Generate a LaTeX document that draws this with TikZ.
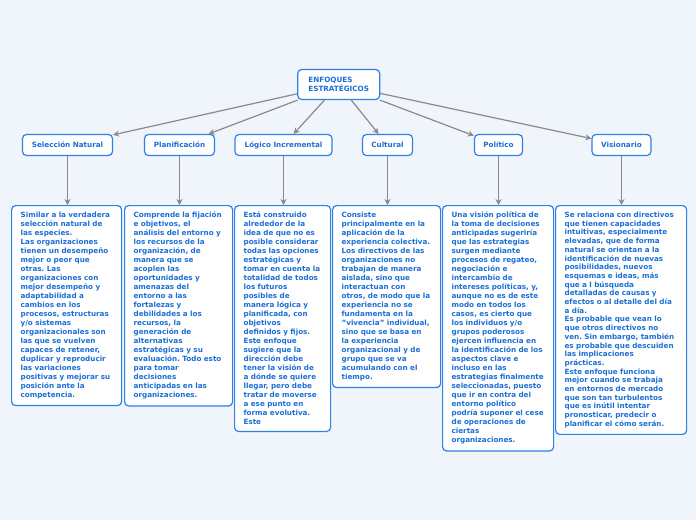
\documentclass[tikz,border=0pt]{standalone}
\usepackage{fontspec}
\setmainfont{DejaVu Sans}
\usepackage{tikz}
\usetikzlibrary{arrows.meta,positioning}
\frenchspacing
\definecolor{cBg}{HTML}{F0F4FB}
\definecolor{cBlue}{HTML}{2F80E8}
\definecolor{cText}{HTML}{1A6FD6}
\definecolor{cGray}{HTML}{8A8A8A}
\tikzset{
  bx/.style={draw=cBlue,fill=white,rounded corners=4pt,line width=1.2pt,text=cText,font=\fontsize{7.2}{9}\selectfont\bfseries},
  rootbox/.style={bx,align=left,minimum width=82pt,minimum height=30pt,inner xsep=8pt},
  topic/.style={bx,minimum height=21pt,minimum width=#1,inner sep=2pt},
  desc/.style={bx,anchor=north west,align=left,text width=#1,inner xsep=9pt,inner ysep=6.5pt},
  arr/.style={-{Stealth[length=6pt,width=6pt]},line width=1.2pt,color=cGray},
}
\begin{document}
\begin{tikzpicture}[x=1pt,y=-1pt]
  \fill[cBg] (0,0) rectangle (696,520);
  % root
  \node[rootbox] (root) at (338.7,84.5) {ENFOQUES\\ESTRATÉGICOS};
  % approaches
  \node[topic=90pt] (sel)  at (67.5,145)  {Selección Natural};
  \node[topic=70pt] (plan) at (179.5,145) {Planificación};
  \node[topic=97pt] (log)  at (283.5,145) {Lógico Incremental};
  \node[topic=50pt] (cult) at (387.5,145) {Cultural};
  \node[topic=48pt] (pol)  at (498.5,145) {Político};
  \node[topic=59pt] (vis)  at (621.5,145) {Visionario};
  % descriptions
  \node[desc=92pt] (dsel) at (11,205) {Similar a la verdadera\\ selección natural de\\ las especies.\\ Las organizaciones\\ tienen un desempeño\\ mejor o peor que\\ otras. Las\\ organizaciones con\\ mejor desempeño y\\ adaptabilidad a\\ cambios en los\\ procesos, estructuras\\ y/o sistemas\\ organizacionales son\\ las que se vuelven\\ capaces de retener,\\ duplicar y reproducir\\ las variaciones\\ positivas y mejorar su\\ posición ante la\\ competencia.};
  \node[desc=90pt] (dplan) at (124,205) {Comprende la fijación\\ e objetivos, el\\ análisis del entorno y\\ los recursos de la\\ organización, de\\ manera que se\\ acoplen las\\ oportunidades y\\ amenazas del\\ entorno a las\\ fortalezas y\\ debilidades a los\\ recursos, la\\ generación de\\ alternativas\\ estratégicas y su\\ evaluación. Todo esto\\ para tomar\\ decisiones\\ anticipadas en las\\ organizaciones.};
  \node[desc=78pt] (dlog) at (234,205) {Está construido\\ alrededor de la\\ idea de que no es\\ posible considerar\\ todas las opciones\\ estratégicas y\\ tomar en cuenta la\\ totalidad de todos\\ los futuros\\ posibles de\\ manera lógica y\\ planificada, con\\ objetivos\\ definidos y fijos.\\ Este enfoque\\ sugiere que la\\ dirección debe\\ tener la visión de\\ a dónde se quiere\\ llegar, pero debe\\ tratar de moverse\\ a ese punto en\\ forma evolutiva.\\ Este};
  \node[desc=90pt] (dcult) at (332,205) {Consiste\\ principalmente en la\\ aplicación de la\\ experiencia colectiva.\\ Los directivos de las\\ organizaciones no\\ trabajan de manera\\ aislada, sino que\\ interactuan con\\ otros, de modo que la\\ experiencia no se\\ fundamenta en la\\ "vivencia" individual,\\ sino que se basa en\\ la experiencia\\ organizacional y de\\ grupo que se va\\ acumulando con el\\ tiempo.};
  \node[desc=93pt] (dpol) at (442,205) {Una visión política de\\ la toma de decisiones\\ anticipadas sugeriría\\ que las estrategias\\ surgen mediante\\ procesos de regateo,\\ negociación e\\ intercambio de\\ intereses políticas, y,\\ aunque no es de este\\ modo en todos los\\ casos, es cierto que\\ los individuos y/o\\ grupos poderosos\\ ejercen influencia en\\ la identificación de los\\ aspectos clave e\\ incluso en las\\ estrategias finalmente\\ seleccionadas, puesto\\ que ir en contra del\\ entorno político\\ podría suponer el cese\\ de operaciones de\\ ciertas\\ organizaciones.};
  \node[desc=113pt,font=\fontsize{7.2}{8.7}\selectfont\bfseries] (dvis) at (555,205) {Se relaciona con directivos\\ que tienen capacidades\\ intuitivas, especialmente\\ elevadas, que de forma\\ natural se orientan a la\\ identificación de nuevas\\ posibilidades, nuevos\\ esquemas e ideas, más\\ que a l búsqueda\\ detalladas de causas y\\ efectos o al detalle del día\\ a día.\\ Es probable que vean lo\\ que otros directivos no\\ ven. Sin embargo, también\\ es probable que descuiden\\ las implicaciones\\ prácticas.\\ Este enfoque funciona\\ mejor cuando se trabaja\\ en entornos de mercado\\ que son tan turbulentos\\ que es inútil intentar\\ pronosticar, predecir o\\ planificar el cómo serán.};
  % connectors
  \foreach \t in {sel,plan,log,cult,pol,vis}
    \draw[arr] (root) -- (\t);
  \foreach \t/\d in {sel/dsel,plan/dplan,log/dlog,cult/dcult,pol/dpol,vis/dvis}
    \draw[arr] (\t.south) -- (\t.south |- \d.north);
\end{tikzpicture}
\end{document}
